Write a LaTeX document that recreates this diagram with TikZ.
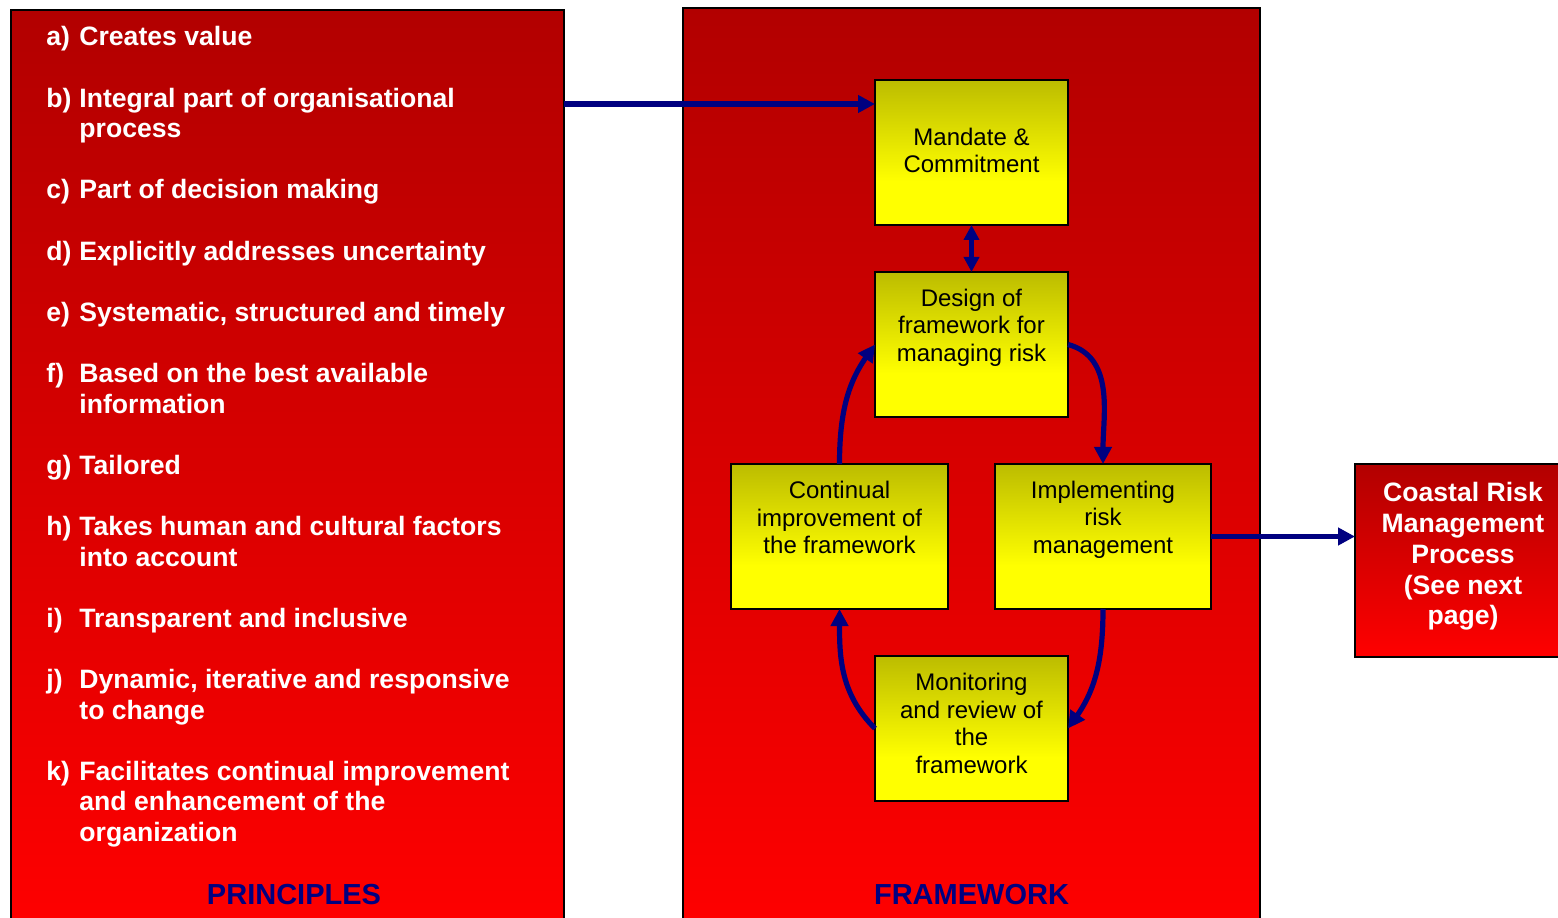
\documentclass[tikz,border=0pt]{standalone}
\usepackage{fontspec}
\setmainfont{Liberation Sans}
\usepackage{xcolor}
\definecolor{darkred}{RGB}{178,0,0}
\definecolor{brightred}{RGB}{255,0,0}
\definecolor{olivetop}{RGB}{188,188,0}
\definecolor{boxyellow}{RGB}{255,255,0}
\definecolor{navyblue}{RGB}{0,0,128}
\usepackage{tikz}
\usetikzlibrary{arrows.meta,positioning,calc}
\pgfdeclareverticalshading{yellowfade}{100bp}{color(0bp)=(boxyellow); color(40bp)=(boxyellow); color(75bp)=(olivetop); color(100bp)=(olivetop)}

\begin{document}
\begin{tikzpicture}[
  x=0.5pt, y=0.5pt,
  redbox/.style={rectangle, draw=black, line width=0.8pt, top color=darkred,
                 bottom color=brightred, inner sep=0pt, outer sep=0pt},
  fwbox/.style={rectangle, draw=black, line width=1pt, shading=yellowfade,
                minimum width=96.5pt, minimum height=72.5pt, inner sep=0pt, outer sep=0pt},
  fwtext/.style={align=center, font=\fontsize{12}{13.75}\selectfont, inner sep=0pt},
  whitetext/.style={text=white, font=\fontsize{13.3}{15.3}\selectfont\bfseries, inner sep=0pt},
  title/.style={text=navyblue, font=\fontsize{14.5}{16}\selectfont\bfseries},
  arr/.style={line width=2.6pt, draw=navyblue, -{Triangle[length=8.5pt,width=8.5pt]}},
  dblarr/.style={line width=2.6pt, draw=navyblue, {Triangle[length=7.5pt,width=7.5pt]}-{Triangle[length=7.5pt,width=7.5pt]}}
]
  \useasboundingbox (0,0) rectangle (1558,917);

  % principles column
  \node[redbox, minimum width=276.5pt, minimum height=461pt] (pbox) at (287.5,446) {};
  \node[whitetext, anchor=base west] (plist) at (46,871) {%
    \begin{tabular}[t]{@{}p{16.5pt}@{}l@{}}
      a) & Creates value\\ & \\
      b) & Integral part of organisational\\ & process\\ & \\
      c) & Part of decision making\\ & \\
      d) & Explicitly addresses uncertainty\\ & \\
      e) & Systematic, structured and timely\\ & \\
      f) & Based on the best available\\ & information\\ & \\
      g) & Tailored\\ & \\
      h) & Takes human and cultural factors\\ & into account\\ & \\
      i) & Transparent and inclusive\\ & \\
      j) & Dynamic, iterative and responsive\\ & to change\\ & \\
      k) & Facilitates continual improvement\\ & and enhancement of the\\ & organization
    \end{tabular}};
  \node[title] (ptitle) at (294,22) {PRINCIPLES};

  % framework column
  \node[redbox, minimum width=288.5pt, minimum height=462pt] (fbox) at (971.5,447) {};
  \node[title] (ftitle) at (971.5,22) {FRAMEWORK};

  \node[fwbox] (mandate) at (971.5,764.5) {};
  \node[fwtext] (mandatetxt) at ([yshift=1pt]mandate.center) {Mandate \&\\Commitment};
  \node[fwbox] (design) at (971.5,572.5) {};
  \node[fwtext] (designtxt) at ([yshift=8.5pt]design.center) {Design of\\framework for\\managing risk};
  \node[fwbox, minimum width=108.5pt] (contin) at (839.5,380.5) {};
  \node[fwtext] (contintxt) at ([yshift=9.5pt]contin.center) {Continual\\improvement of\\the framework};
  \node[fwbox, minimum width=108pt] (implem) at (1103,380.5) {};
  \node[fwtext] (implemtxt) at ([yshift=8.5pt]implem.center) {Implementing\\risk\\management};
  \node[fwbox] (monit) at (971.5,188.5) {};
  \node[fwtext] (monittxt) at ([yshift=2.5pt]monit.center) {Monitoring\\and review of\\the\\framework};

  % process box
  \node[redbox, minimum width=108pt, minimum height=96.5pt] (coastal) at (1463,356.5) {};
  \node[whitetext, align=center, font=\fontsize{13.3}{15.4}\selectfont\bfseries] (coastaltxt)
    at ([yshift=2pt]coastal.center) {Coastal Risk\\Management\\Process\\(See next\\page)};

  % connectors
  \coordinate (mentry) at ([yshift=-12pt]mandate.north west);
  \draw[arr] (pbox.east |- mentry) -- (mentry);
  \draw[dblarr] (mandate.south) -- (design.north);
  \draw[arr] (contin.north) to[out=90,in=235] (design.west);
  \draw[arr] (design.east) to[out=-15,in=90] (implem.north);
  \draw[arr] (implem.south) to[out=270,in=55] (monit.east);
  \draw[arr] (monit.west) to[out=135,in=270] (contin.south);
  \draw[arr] (implem.east) -- (implem.east -| coastal.west);
\end{tikzpicture}
\end{document}
